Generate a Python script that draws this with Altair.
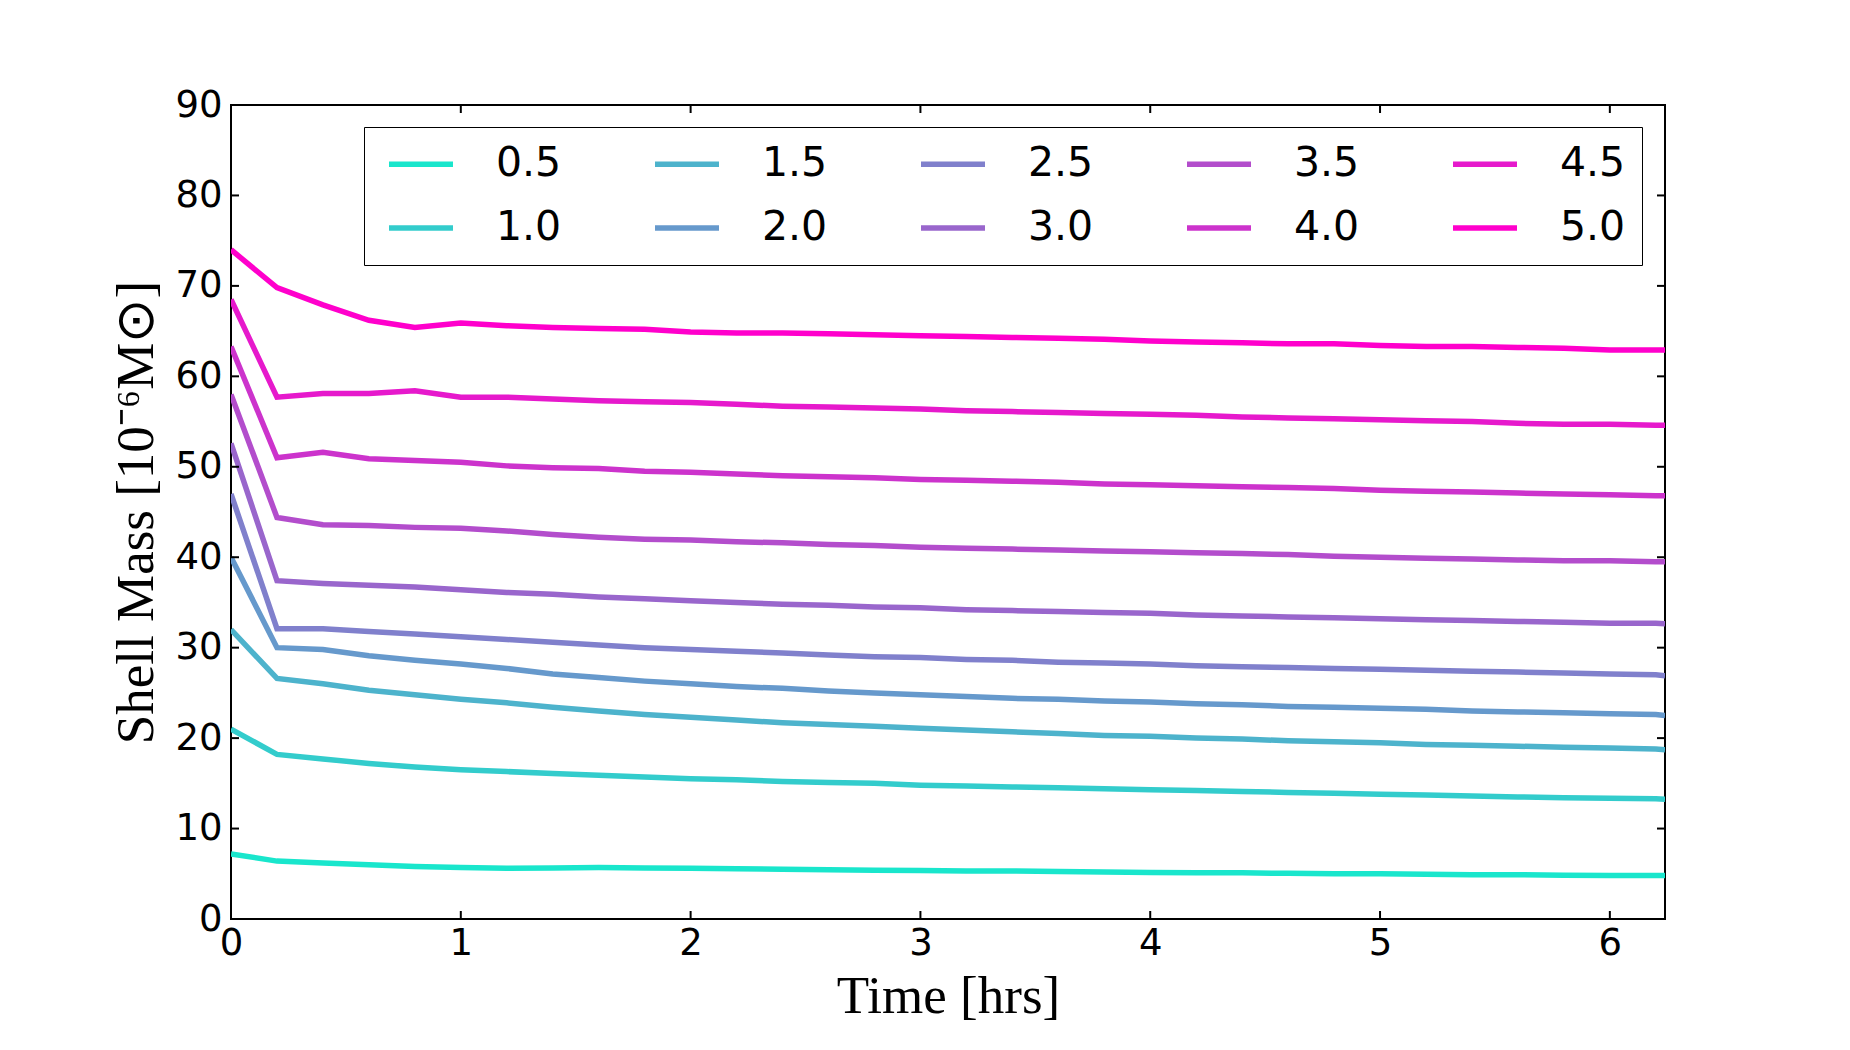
import altair as alt
import pandas as pd

times = [0.0, 0.2, 0.4, 0.6, 0.8, 1.0, 1.2, 1.4, 1.6, 1.8, 2.0, 2.2, 2.4, 2.6, 2.8, 3.0,
         3.2, 3.4, 3.6, 3.8, 4.0, 4.2, 4.4, 4.6, 4.8, 5.0, 5.2, 5.4, 5.6, 5.8, 6.0, 6.2, 6.24]

s05 = [7.2, 6.4, 6.2, 6.0, 5.8, 5.7, 5.6, 5.65, 5.7, 5.65, 5.6, 5.55, 5.5, 5.45, 5.4, 5.35,
       5.3, 5.3, 5.25, 5.2, 5.15, 5.1, 5.1, 5.05, 5.0, 5.0, 4.95, 4.9, 4.9, 4.85, 4.8, 4.8, 4.8]
s10 = [21.0, 18.2, 17.7, 17.2, 16.8, 16.5, 16.3, 16.1, 15.9, 15.7, 15.5, 15.4, 15.2, 15.1, 15.0, 14.8,
       14.7, 14.6, 14.5, 14.4, 14.3, 14.2, 14.1, 14.0, 13.9, 13.8, 13.7, 13.6, 13.5, 13.4, 13.35, 13.3, 13.25]
s15 = [32.0, 26.6, 26.0, 25.3, 24.8, 24.3, 23.9, 23.4, 23.0, 22.6, 22.3, 22.0, 21.7, 21.5, 21.3, 21.1,
       20.9, 20.7, 20.5, 20.3, 20.2, 20.0, 19.9, 19.7, 19.6, 19.5, 19.3, 19.2, 19.1, 19.0, 18.9, 18.8, 18.7]
s20 = [40.0, 30.0, 29.8, 29.1, 28.6, 28.2, 27.7, 27.1, 26.7, 26.3, 26.0, 25.7, 25.5, 25.2, 25.0, 24.8,
       24.6, 24.4, 24.3, 24.1, 24.0, 23.8, 23.7, 23.5, 23.4, 23.3, 23.2, 23.0, 22.9, 22.8, 22.7, 22.6, 22.5]
s25 = [47.0, 32.1, 32.1, 31.8, 31.5, 31.2, 30.9, 30.6, 30.3, 30.0, 29.8, 29.6, 29.4, 29.2, 29.0, 28.9,
       28.7, 28.6, 28.4, 28.3, 28.2, 28.0, 27.9, 27.8, 27.7, 27.6, 27.5, 27.4, 27.3, 27.2, 27.1, 27.0, 26.9]
s30 = [52.6, 37.4, 37.1, 36.9, 36.7, 36.4, 36.1, 35.9, 35.6, 35.4, 35.2, 35.0, 34.8, 34.7, 34.5, 34.4,
       34.2, 34.1, 34.0, 33.9, 33.8, 33.6, 33.5, 33.4, 33.3, 33.2, 33.1, 33.0, 32.9, 32.8, 32.7, 32.7, 32.65]
s35 = [58.0, 44.4, 43.6, 43.5, 43.3, 43.2, 42.9, 42.5, 42.2, 42.0, 41.9, 41.7, 41.6, 41.4, 41.3, 41.1,
       41.0, 40.9, 40.8, 40.7, 40.6, 40.5, 40.4, 40.3, 40.1, 40.0, 39.9, 39.8, 39.7, 39.6, 39.6, 39.5, 39.5]
s40 = [63.3, 51.0, 51.6, 50.9, 50.7, 50.5, 50.1, 49.9, 49.8, 49.5, 49.4, 49.2, 49.0, 48.9, 48.8, 48.6,
       48.5, 48.4, 48.3, 48.1, 48.0, 47.9, 47.8, 47.7, 47.6, 47.4, 47.3, 47.2, 47.1, 47.0, 46.9, 46.8, 46.8]
s45 = [68.5, 57.7, 58.1, 58.1, 58.4, 57.7, 57.7, 57.5, 57.3, 57.2, 57.1, 56.9, 56.7, 56.6, 56.5, 56.4,
       56.2, 56.1, 56.0, 55.9, 55.8, 55.7, 55.5, 55.4, 55.3, 55.2, 55.1, 55.0, 54.8, 54.7, 54.7, 54.6, 54.6]
s50 = [74.0, 69.8, 67.9, 66.2, 65.4, 65.9, 65.6, 65.4, 65.3, 65.2, 64.9, 64.8, 64.8, 64.7, 64.6, 64.5,
       64.4, 64.3, 64.2, 64.1, 63.9, 63.8, 63.7, 63.6, 63.6, 63.4, 63.3, 63.3, 63.2, 63.1, 62.9, 62.9, 62.9]

series_names = ["0.5", "1.0", "1.5", "2.0", "2.5", "3.0", "3.5", "4.0", "4.5", "5.0"]
series_values = [s05, s10, s15, s20, s25, s30, s35, s40, s45, s50]
series_colors = ["#19e6cc", "#33cccc", "#4db3cc", "#6699cc", "#8080cc",
                 "#9966cc", "#b34dcc", "#cc33cc", "#e619cc", "#ff00cc"]

x_ticks = [0, 1, 2, 3, 4, 5, 6]
y_ticks = [0, 10, 20, 30, 40, 50, 60, 70, 80, 90]

rows = []
for i, (name, vals) in enumerate(zip(series_names, series_values)):
    for t, v in zip(times, vals):
        rows.append({"time": t, "series": name, "mass": v, "order": i})
df = pd.DataFrame(rows)

W, H = 1434, 814
TL = 8

xscale = alt.Scale(domain=[0, 6.24], nice=False, zero=False)
yscale = alt.Scale(domain=[0, 90], nice=False)

x_axis = alt.Axis(values=x_ticks, format="d", title="Time [hrs]", titleX=W / 2, titleY=93,
                  titleAlign="center", titleBaseline="alphabetic", labelPadding=6)
y_axis = alt.Axis(values=y_ticks, format="d", title="Shell Mass [10⁻⁶M⊙]", titleX=-79, titleY=H / 2,
                  titleAlign="center", titleBaseline="alphabetic", titleAngle=270,
                  labelPadding=9)

lines = alt.Chart(df).mark_line(strokeWidth=5.5, clip=True).encode(
    x=alt.X("time:Q", scale=xscale, axis=x_axis),
    y=alt.Y("mass:Q", scale=yscale, axis=y_axis),
    color=alt.Color("series:N", scale=alt.Scale(domain=series_names, range=series_colors),
                    legend=alt.Legend(title=None, orient="none", legendX=133, legendY=22,
                                      direction="vertical", columns=5,
                                      symbolType="M-2,0L2,0", symbolSize=1024,
                                      symbolStrokeWidth=5.5, symbolOffset=20,
                                      labelOffset=54.5, columnPadding=82,
                                      rowPadding=22, padding=16.5, strokeColor="black",
                                      fillColor="white", labelFont="DejaVu Sans",
                                      labelFontSize=41, labelColor="black")),
    detail="series:N",
    order="order:Q",
)

xt = pd.DataFrame({"time": x_ticks})
yt = pd.DataFrame({"mass": y_ticks})

xb = alt.Chart(xt).mark_rule(color="black", strokeWidth=2).encode(
    x=alt.X("time:Q", scale=xscale), y=alt.value(H - TL), y2=alt.value(H))
xtop = alt.Chart(xt).mark_rule(color="black", strokeWidth=2).encode(
    x=alt.X("time:Q", scale=xscale), y=alt.value(0), y2=alt.value(TL))
yl = alt.Chart(yt).mark_rule(color="black", strokeWidth=2).encode(
    y=alt.Y("mass:Q", scale=yscale), x=alt.value(0), x2=alt.value(TL))
yr = alt.Chart(yt).mark_rule(color="black", strokeWidth=2).encode(
    y=alt.Y("mass:Q", scale=yscale), x=alt.value(W - TL), x2=alt.value(W))

chart = alt.layer(lines, xb, xtop, yl, yr).properties(
    width=W, height=H,
    padding={"left": 223, "top": 97, "right": 150, "bottom": 110},
    autosize="none",
    background="white",
).configure_view(
    stroke="black", strokeWidth=2
).configure_axis(
    domain=False, ticks=False, grid=False,
    labelFont="DejaVu Sans", labelFontSize=37, labelColor="black",
    labelFlush=False, labelOverlap=False,
    titleFont="Liberation Serif", titleFontSize=53, titleFontWeight="normal", titleColor="black",
)

chart.save("out.html", embed_options={"renderer": "svg", "actions": False})
